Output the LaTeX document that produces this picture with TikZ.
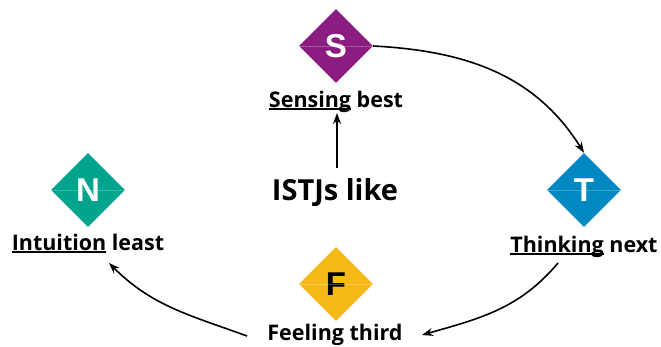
\documentclass[tikz,border=0pt]{standalone}
\usepackage{fontspec}
\setmainfont{Open Sans}
\newfontfamily\letterfont{Liberation Sans}
\usetikzlibrary{arrows.meta,shapes.geometric}
\definecolor{cS}{HTML}{8C1D80}
\definecolor{cN}{HTML}{00A38C}
\definecolor{cT}{HTML}{0088C2}
\definecolor{cF}{HTML}{F5BA17}
\newcommand\myul[1]{\setbox0\hbox{#1}\rlap{\rule[-3pt]{\wd0}{2.2pt}}\box0\relax}
\tikzset{
  dia/.style={diamond,inner sep=0pt,minimum width=74pt,minimum height=74pt,aspect=1,
    font=\letterfont\bfseries\fontsize{33}{33}\selectfont,text=white},
  lab/.style={inner sep=0pt,anchor=base,font=\bfseries\fontsize{21.5}{22}\selectfont},
  arr/.style={line width=1.6pt,-{Stealth[length=11pt,width=8pt]}}
}
\begin{document}
\begin{tikzpicture}[x=1pt,y=-1pt]
\useasboundingbox (0,0) rectangle (661,346);
\node[dia,fill=cS] (S) at (336,46) {S};
\node[dia,fill=cN] (N) at (88,190) {N};
\node[dia,fill=cT] (T) at (584,190) {T};
\node[dia,fill=cF,text=black] (F) at (336,284) {F};
\foreach \d in {S,N,T,F}{\draw[white,opacity=0.25,line width=0.6pt] (\d.west) -- (\d.east);}
\node[lab] (Slab) at (336,107) {\myul{Sensing} best};
\node[lab] (Nlab) at (88,250) {\myul{Intuition} least};
\node[lab] (Tlab) at (584,252) {\myul{Thinking} next};
\node[lab] (Flab) at (335,340) {Feeling third};
\node[inner sep=0pt,anchor=base,font=\bfseries\fontsize{29}{30}\selectfont] (I) at (335,200) {ISTJs like};
\coordinate (iT) at (337,168);
\coordinate (iS) at (337,113);
\draw[arr] (iT) -- (iS);
\draw[arr] (S.east) to[out=-3,in=122] (T.north);
\coordinate (t1) at (558,263);
\coordinate (f1) at (422,335);
\coordinate (f2) at (247,336);
\coordinate (n1) at (109,263);
\draw[arr] (t1) to[out=230,in=16] (f1);
\draw[arr] (f2) to[out=160,in=-45] (n1);
\end{tikzpicture}
\end{document}
